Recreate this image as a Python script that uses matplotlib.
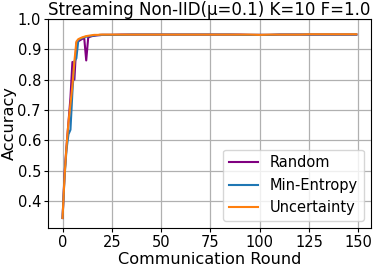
import matplotlib
matplotlib.use("Agg")
import matplotlib.pyplot as plt

# communication rounds at which accuracy was sampled
rounds = [0, 1, 2, 3, 4, 5, 6, 7, 8, 9, 10, 11, 12, 13, 14, 15, 16, 17, 18, 19, 20,
          22, 25, 30, 35, 40, 45, 50, 55, 60, 65, 70, 75, 80, 85, 90, 95, 100,
          105, 110, 115, 120, 125, 130, 135, 140, 145, 149]

acc_random = [0.345, 0.49, 0.58, 0.66, 0.74, 0.858, 0.80, 0.92, 0.926, 0.93, 0.934,
              0.936, 0.863, 0.938, 0.941, 0.943, 0.944, 0.945, 0.946, 0.946, 0.947,
              0.947, 0.947, 0.948, 0.948, 0.948, 0.948, 0.948, 0.948, 0.948, 0.948,
              0.948, 0.948, 0.948, 0.948, 0.948, 0.947, 0.947, 0.947, 0.948, 0.948,
              0.948, 0.948, 0.948, 0.948, 0.948, 0.948, 0.948]
acc_min_entropy = [0.345, 0.48, 0.57, 0.62, 0.635, 0.76, 0.86, 0.87, 0.93, 0.934, 0.937,
                   0.939, 0.941, 0.942, 0.943, 0.944, 0.945, 0.946, 0.946, 0.947, 0.947,
                   0.947, 0.947, 0.947, 0.948, 0.948, 0.948, 0.948, 0.948, 0.948, 0.948,
                   0.948, 0.948, 0.948, 0.948, 0.947, 0.947, 0.947, 0.947, 0.948, 0.948,
                   0.948, 0.948, 0.948, 0.948, 0.948, 0.948, 0.948]
acc_uncertainty = [0.345, 0.48, 0.58, 0.66, 0.72, 0.78, 0.86, 0.925, 0.933, 0.936, 0.939,
                   0.941, 0.943, 0.944, 0.945, 0.946, 0.947, 0.947, 0.947, 0.948, 0.948,
                   0.948, 0.948, 0.948, 0.948, 0.948, 0.948, 0.948, 0.948, 0.948, 0.948,
                   0.948, 0.948, 0.948, 0.948, 0.948, 0.948, 0.947, 0.948, 0.948, 0.948,
                   0.948, 0.949, 0.949, 0.949, 0.949, 0.949, 0.949]

fig = plt.figure(figsize=(3.74, 2.68), dpi=100)
ax = fig.add_axes([0.128, 0.149, 0.864, 0.781])

ax.plot(rounds, acc_random, color="purple", lw=1.5, label="Random")
ax.plot(rounds, acc_min_entropy, color="#1f77b4", lw=1.5, label="Min-Entropy")
ax.plot(rounds, acc_uncertainty, color="#ff7f0e", lw=1.5, label="Uncertainty")

ax.set_ylim(0.312, 1.0)
ax.set_xticks([0, 25, 50, 75, 100, 125, 150])
ax.set_yticks([0.4, 0.5, 0.6, 0.7, 0.8, 0.9, 1.0])
ax.tick_params(labelsize=10.5, length=3, pad=2)
ax.grid(True, color="#b0b0b0", lw=0.9)
ax.set_title("Streaming Non-IID(\u03bc=0.1) K=10 F=1.0", fontsize=12, pad=1)
ax.set_xlabel("Communication Round", fontsize=11.6, labelpad=1.5)
ax.set_ylabel("Accuracy", fontsize=11.6)
ax.yaxis.set_label_coords(-0.097, 0.5)
ax.legend(loc="lower right", fontsize=10.5)

fig.savefig("out.png", dpi=100)
